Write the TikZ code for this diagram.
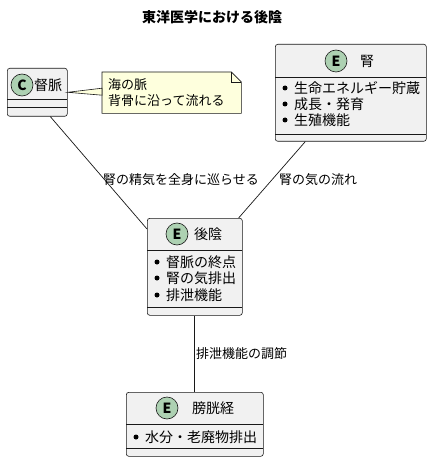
\documentclass[tikz,border=0pt]{standalone}
\usepackage{fontspec}
\setmainfont{Noto Sans CJK JP}
\definecolor{boxfill}{HTML}{F1F1F1}
\definecolor{linec}{HTML}{181818}
\definecolor{circfill}{HTML}{ADD1B2}
\definecolor{notefill}{HTML}{FEFFDD}
\begin{document}
\begin{tikzpicture}[x=1pt,y=-1pt,
  umlbox/.style={draw=linec, fill=boxfill, rounded corners=2.5pt, line width=0.6pt, inner sep=0pt, anchor=north west},
  sepline/.style={draw=linec, line width=0.6pt},
  circ/.style={circle, draw=linec, fill=circfill, line width=0.6pt, minimum size=22pt, inner sep=0pt, font=\bfseries\fontsize{14}{14}\selectfont},
  hname/.style={inner sep=0pt, font=\fontsize{14}{16}\selectfont},
  itm/.style={inner sep=0pt, anchor=west, font=\fontsize{14}{16}\selectfont},
  bul/.style={circle, fill=black, inner sep=0pt, minimum size=5pt},
  lbl/.style={inner sep=0pt, font=\fontsize{13}{15}\selectfont},
  conn/.style={draw=linec, line width=0.7pt},
  ttl/.style={inner sep=0pt, font=\bfseries\fontsize{14}{16}\selectfont}
]
\useasboundingbox (0,0) rectangle (432,462);
\fill[white] (0,0) rectangle (432,462);

\node[ttl] (title) at (212,17) {東洋医学における後陰};

% 督脈
\node[umlbox, minimum width=60pt, minimum height=48pt] (dm) at (7,68) {};
\draw[sepline] (7,99.5) -- (67,99.5);
\draw[sepline] (7,107.5) -- (67,107.5);
\node[circ] (dmc) at (22,85) {C};
\node[hname] (dmn) at (48,85) {督脈};

% note
\node[inner sep=0pt, minimum width=139pt, minimum height=41pt, anchor=north west] (nt) at (102,72) {};
\draw[linec, fill=notefill, line width=0.6pt] (nt.north west) -- ([xshift=-10pt]nt.north east) -- ([yshift=-10pt]nt.north east) -- (nt.south east) -- (nt.south west) -- cycle;
\draw[linec, line width=0.6pt] ([xshift=-10pt]nt.north east) -- ([xshift=-10pt,yshift=-10pt]nt.north east) -- ([yshift=-10pt]nt.north east);
\node[lbl, anchor=west] (nt1) at (108,85) {海の脈};
\node[lbl, anchor=west] (nt2) at (108,101) {背骨に沿って流れる};
\filldraw[linec, fill=notefill, line width=0.6pt] (dm.east) -- ([yshift=4.5pt]nt.west) -- ([yshift=-2.5pt]nt.west) -- cycle;

% 腎
\node[umlbox, minimum width=151pt, minimum height=97pt] (kd) at (275,44) {};
\draw[sepline] (275,77) -- (426,77);
\draw[sepline] (275,134) -- (426,134);
\node[circ] (kdc) at (336,61) {E};
\node[hname] (kdn) at (367,61) {腎};
\node[bul] (kdb1) at (285,88) {};
\node[itm] (kdi1) at (294,88) {生命エネルギー貯蔵};
\node[bul] (kdb2) at (285,104) {};
\node[itm] (kdi2) at (294,104) {成長・発育};
\node[bul] (kdb3) at (285,120) {};
\node[itm] (kdi3) at (294,120) {生殖機能};

% 後陰
\node[umlbox, minimum width=95pt, minimum height=97pt] (hy) at (147,218) {};
\draw[sepline] (147,250) -- (242,250);
\draw[sepline] (147,307) -- (242,307);
\node[circ] (hyc) at (177,234) {E};
\node[hname] (hyn) at (208,234) {後陰};
\node[bul] (hyb1) at (157,262) {};
\node[itm] (hyi1) at (166,262) {督脈の終点};
\node[bul] (hyb2) at (157,278) {};
\node[itm] (hyi2) at (166,278) {腎の気排出};
\node[bul] (hyb3) at (157,295) {};
\node[itm] (hyi3) at (166,295) {排泄機能};

% 膀胱経
\node[umlbox, minimum width=137pt, minimum height=64pt] (bl) at (126,392) {};
\draw[sepline] (126,424) -- (263,424);
\draw[sepline] (126,448.5) -- (263,448.5);
\node[circ] (blc) at (167,408) {E};
\node[hname] (bln) at (213,408) {膀胱経};
\node[bul] (blb1) at (136,437) {};
\node[itm] (bli1) at (145,437) {水分・老廃物排出};

% connectors
\draw[conn] ([xshift=13pt]dm.south) -- ([yshift=-11pt]hy.north west);
\draw[conn] ([xshift=-45.5pt]kd.south) -- ([xshift=-4pt]hy.north east);
\draw[conn] (hy.south) -- (hy.south |- bl.north);

\node[lbl] (l1) at (181,180) {腎の精気を全身に巡らせる};
\node[lbl] (l2) at (318,180) {腎の気の流れ};
\node[lbl, anchor=west] (l3) at (196,354) {排泄機能の調節};
\end{tikzpicture}
\end{document}
